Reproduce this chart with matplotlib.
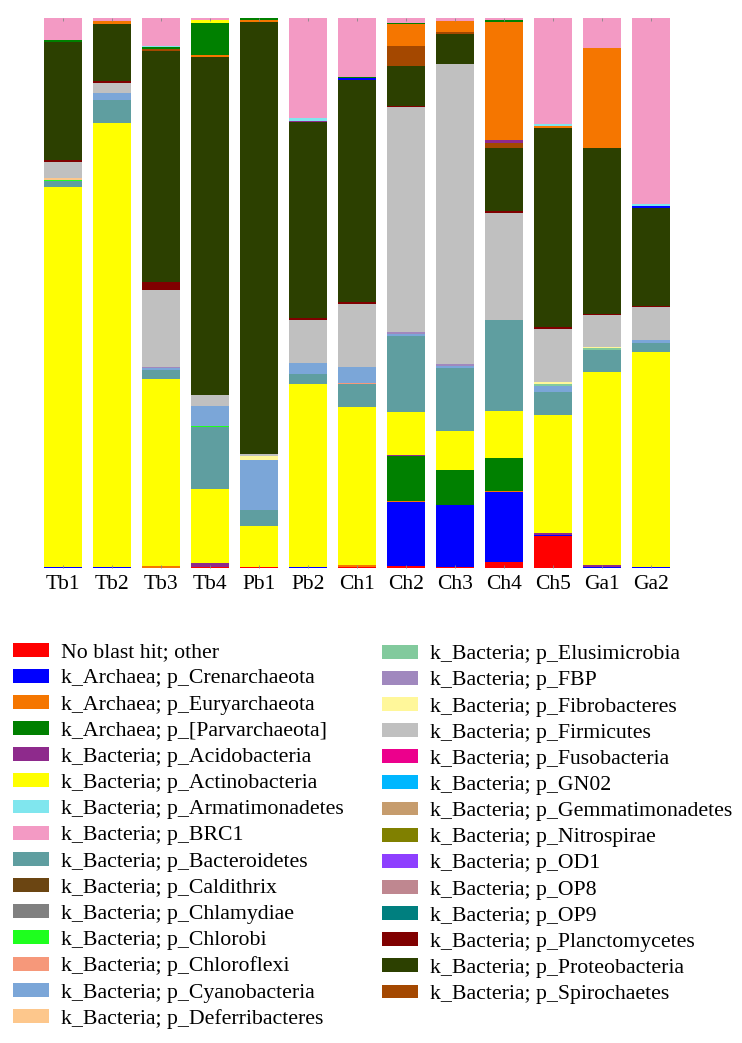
"""Stacked relative-abundance bars per sample (phylum level) with a two-column legend."""

import numpy as np
import matplotlib
matplotlib.use("Agg")
import matplotlib.pyplot as plt
from matplotlib.patches import Patch

plt.rcParams["font.family"] = ["Liberation Serif", "DejaVu Serif"]

samples = ["Tb1", "Tb2", "Tb3", "Tb4", "Pb1", "Pb2", "Ch1",
           "Ch2", "Ch3", "Ch4", "Ch5", "Ga1", "Ga2"]

# relative abundance (%) per sample, in stacking order (bottom -> top)
no_blast = [0, 0, 0, 0.2, 0.3, 0, 0.3, 0.5, 0.3, 1.15, 5.8, 0, 0]
crenarchaeota = [0.3, 0.3, 0, 0, 0, 0.3, 0, 11.5, 11.3, 12.7, 0.35, 0.35, 0.3]
euryarchaeota = [0, 0, 0.4, 0, 0, 0, 0.3, 0.2, 0, 0.25, 0, 0, 0]
parvarchaeota = [0, 0, 0, 0, 0, 0, 0, 8.2, 6.2, 5.9, 0, 0, 0]
acidobacteria = [0, 0, 0, 0.85, 0, 0, 0, 0.3, 0, 0, 0.2, 0.2, 0]
actinobacteria = [69.0, 80.8, 33.9, 13.45, 7.4, 33.3, 28.7, 7.7, 7.15, 8.5, 21.5, 35.2, 39.15]
bacteroidetes = [1.0, 4.25, 1.6, 11.15, 2.9, 1.8, 4.1, 13.8, 11.5, 16.4, 4.1, 3.9, 1.6]
chlorobi = [0.3, 0, 0, 0.2, 0, 0, 0, 0, 0, 0, 0, 0, 0]
chloroflexi = [0, 0, 0, 0, 0, 0, 0.25, 0, 0, 0, 0, 0, 0]
cyanobacteria = [0, 1.3, 0.35, 3.75, 9.2, 1.95, 2.8, 0.4, 0.3, 0, 1.2, 0, 0.6]
deferribacteres = [0.3, 0, 0, 0, 0, 0, 0, 0, 0, 0, 0, 0, 0]
elusimicrobia = [0, 0, 0, 0, 0, 0, 0, 0, 0, 0, 0.35, 0.35, 0]
fbp = [0, 0, 0.35, 0, 0, 0, 0, 0.4, 0.3, 0, 0, 0, 0]
fibrobacteres = [0, 0, 0, 0, 0.7, 0, 0, 0, 0, 0, 0.35, 0.25, 0]
firmicutes = [2.9, 1.8, 13.9, 1.95, 0.35, 7.8, 11.4, 41.0, 54.5, 19.4, 9.6, 5.7, 5.9]
planctomycetes = [0.3, 0.3, 1.35, 0, 0, 0.35, 0.4, 0.2, 0, 0.35, 0.35, 0.25, 0.3]
proteobacteria = [21.5, 10.5, 41.9, 61.4, 78.5, 35.7, 40.1, 7.2, 5.45, 11.45, 36.1, 30.1, 17.8]
spirochaetes = [0, 0, 0.4, 0, 0, 0, 0, 3.6, 0.35, 1.0, 0, 0, 0]
# taxa beyond the visible legend (colours repeat the palette)
more_blue = [0, 0, 0, 0, 0, 0, 0.4, 0, 0, 0, 0, 0, 0.35]
more_purple = [0, 0, 0, 0, 0, 0.25, 0, 0, 0, 0.5, 0, 0, 0]
more_orange = [0, 0.5, 0, 0.4, 0.35, 0, 0, 4.1, 2.05, 21.3, 0.25, 18.25, 0]
more_green = [0.4, 0, 0.35, 5.8, 0.35, 0, 0.25, 0.2, 0, 0.35, 0, 0, 0]
more_yellow = [0, 0, 0, 0.5, 0, 0, 0, 0, 0, 0, 0, 0, 0]
more_cyan = [0, 0, 0.25, 0, 0, 0.4, 0, 0, 0, 0, 0.5, 0, 0.25]
more_pink = [3.9, 0.5, 5.0, 0.35, 0, 18.2, 10.6, 0.8, 0.5, 0.35, 19.1, 5.4, 33.9]

legend_labels = [
    "No blast hit; other",
    "k_Archaea; p_Crenarchaeota",
    "k_Archaea; p_Euryarchaeota",
    "k_Archaea; p_[Parvarchaeota]",
    "k_Bacteria; p_Acidobacteria",
    "k_Bacteria; p_Actinobacteria",
    "k_Bacteria; p_Armatimonadetes",
    "k_Bacteria; p_BRC1",
    "k_Bacteria; p_Bacteroidetes",
    "k_Bacteria; p_Caldithrix",
    "k_Bacteria; p_Chlamydiae",
    "k_Bacteria; p_Chlorobi",
    "k_Bacteria; p_Chloroflexi",
    "k_Bacteria; p_Cyanobacteria",
    "k_Bacteria; p_Deferribacteres",
    "k_Bacteria; p_Elusimicrobia",
    "k_Bacteria; p_FBP",
    "k_Bacteria; p_Fibrobacteres",
    "k_Bacteria; p_Firmicutes",
    "k_Bacteria; p_Fusobacteria",
    "k_Bacteria; p_GN02",
    "k_Bacteria; p_Gemmatimonadetes",
    "k_Bacteria; p_Nitrospirae",
    "k_Bacteria; p_OD1",
    "k_Bacteria; p_OP8",
    "k_Bacteria; p_OP9",
    "k_Bacteria; p_Planctomycetes",
    "k_Bacteria; p_Proteobacteria",
    "k_Bacteria; p_Spirochaetes",
]
legend_colors = [
    "#ff0000", "#0000ff", "#f57600", "#008000", "#8e2a8c", "#ffff00",
    "#80e6ee", "#f39ac4", "#5f9ea0", "#6b4512", "#808080", "#1eff1e",
    "#f6987a", "#7ba6d8", "#fdc78c", "#82ca9d", "#a088be", "#fff79a",
    "#c0c0c0", "#ec008c", "#00b7ff", "#c69c6d", "#808000", "#8e3fff",
    "#bf8790", "#007f7f", "#800000", "#2c4000", "#a44800",
]

c = dict(zip(legend_labels, legend_colors))
layers = [
    (no_blast, c["No blast hit; other"]),
    (crenarchaeota, c["k_Archaea; p_Crenarchaeota"]),
    (euryarchaeota, c["k_Archaea; p_Euryarchaeota"]),
    (parvarchaeota, c["k_Archaea; p_[Parvarchaeota]"]),
    (acidobacteria, c["k_Bacteria; p_Acidobacteria"]),
    (actinobacteria, c["k_Bacteria; p_Actinobacteria"]),
    (bacteroidetes, c["k_Bacteria; p_Bacteroidetes"]),
    (chlorobi, c["k_Bacteria; p_Chlorobi"]),
    (chloroflexi, c["k_Bacteria; p_Chloroflexi"]),
    (cyanobacteria, c["k_Bacteria; p_Cyanobacteria"]),
    (deferribacteres, c["k_Bacteria; p_Deferribacteres"]),
    (elusimicrobia, c["k_Bacteria; p_Elusimicrobia"]),
    (fbp, c["k_Bacteria; p_FBP"]),
    (fibrobacteres, c["k_Bacteria; p_Fibrobacteres"]),
    (firmicutes, c["k_Bacteria; p_Firmicutes"]),
    (planctomycetes, c["k_Bacteria; p_Planctomycetes"]),
    (proteobacteria, c["k_Bacteria; p_Proteobacteria"]),
    (spirochaetes, c["k_Bacteria; p_Spirochaetes"]),
    (more_blue, "#0000ff"),
    (more_purple, "#8e2a8c"),
    (more_orange, "#f57600"),
    (more_green, "#008000"),
    (more_yellow, "#ffff00"),
    (more_cyan, "#80e6ee"),
    (more_pink, "#f39ac4"),
]

fig = plt.figure(figsize=(7.42, 10.43), dpi=100)
ax = fig.add_axes([0.052, 0.455, 0.858, 0.5275])

x = np.arange(len(samples))
totals = np.sum([np.array(v, dtype=float) for v, _ in layers], axis=0)
bottom = np.zeros(len(samples))
for vals, color in layers:
    h = np.array(vals, dtype=float) / totals * 100  # relative abundance per sample
    ax.bar(x, h, width=0.78, bottom=bottom, color=color, linewidth=0)
    bottom += h

ax.set_xlim(-0.5, len(samples) - 0.5)
ax.set_ylim(0, 100)
ax.set_xticks(x)
ax.set_xticklabels(samples, fontsize=15.5)
ax.set_yticks([])
ax.tick_params(axis="x", length=2, width=0.6, color="#888888", pad=5, top=True, direction="in")
for s in ax.spines.values():
    s.set_visible(False)

handles = [Patch(facecolor=col, edgecolor="none") for col in legend_colors]
leg_kw = dict(frameon=False, fontsize=15.7, loc="upper left", borderpad=0, borderaxespad=0,
              handlelength=1.65, handleheight=0.6, handletextpad=0.55, labelspacing=0.3)
fig.legend(handles[:15], legend_labels[:15], bbox_to_anchor=(0.018, 0.3838), **leg_kw)
fig.legend(handles[15:], legend_labels[15:], bbox_to_anchor=(0.5148, 0.3819), **leg_kw)

fig.savefig("out.png", dpi=100)
print("wrote out.png")
